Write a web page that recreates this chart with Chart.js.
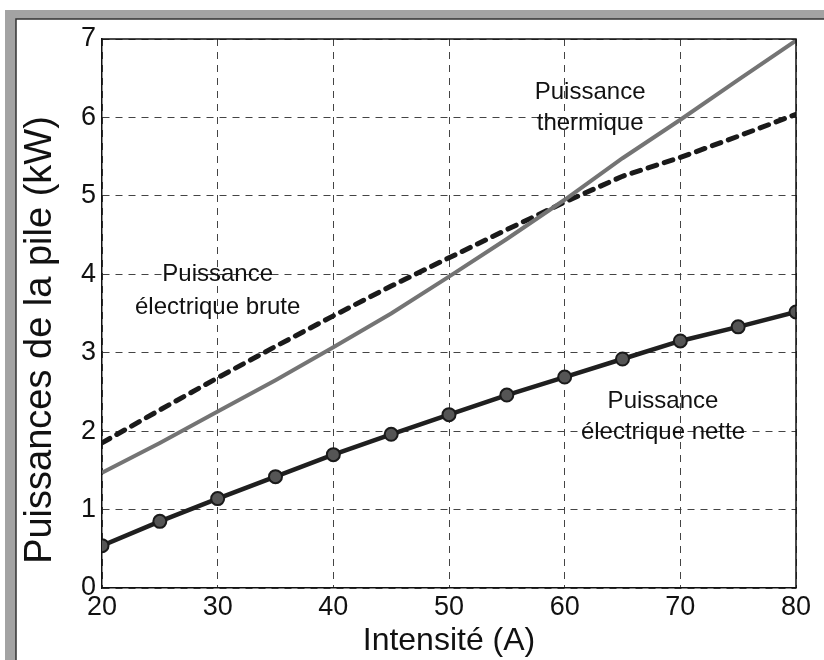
<!DOCTYPE html>
<html>
<head>
<meta charset="utf-8">
<script src="https://cdn.jsdelivr.net/npm/chart.js@4"></script>
<style>
  html, body { margin: 0; padding: 0; background: #fff; }
  #wrap { width: 824px; height: 660px; }
</style>
</head>
<body>
<div id="wrap"><canvas id="pile" width="824" height="660"></canvas></div>
<script>
// data
const current = [20, 25, 30, 35, 40, 45, 50, 55, 60, 65, 70, 75, 80];
const netPower = [0.54, 0.85, 1.14, 1.42, 1.70, 1.96, 2.21, 2.46, 2.69, 2.92, 3.15, 3.33, 3.52];
const grossPower = [1.85, 2.27, 2.68, 3.08, 3.47, 3.85, 4.21, 4.57, 4.92, 5.25, 5.49, 5.76, 6.04];
const thermalPower = [1.47, 1.85, 2.25, 2.65, 3.07, 3.50, 3.97, 4.45, 4.95, 5.48, 5.97, 6.48, 6.98];

const xTicks = [20, 30, 40, 50, 60, 70, 80];
const yTicks = [0, 1, 2, 3, 4, 5, 6, 7];

// text labels placed in data coordinates [x, y, text]
const notes = [
  [62.2, 6.32, 'Puissance'],
  [62.2, 5.92, 'thermique'],
  [30.0, 4.00, 'Puissance'],
  [30.0, 3.58, 'électrique brute'],
  [68.5, 2.38, 'Puissance'],
  [68.5, 1.98, 'électrique nette']
];

const FONT = "'Liberation Sans', Arial, sans-serif";

function pts(ys) {
  return current.map((x, i) => ({ x: x, y: ys[i] }));
}

// grey scanned frame around the figure
const frame = {
  id: 'frame',
  beforeDraw(chart) {
    const c = chart.ctx;
    c.save();
    c.fillStyle = '#a3a3a3';
    c.fillRect(5, 10, 819, 9);
    c.fillRect(5, 10, 11, 650);
    c.strokeStyle = '#333';
    c.lineWidth = 1.5;
    c.beginPath();
    c.moveTo(16, 660);
    c.lineTo(16, 19);
    c.lineTo(824, 19);
    c.stroke();
    c.restore();
  }
};

// solid box on top and right + y axis title
const boxEdge = {
  id: 'boxEdge',
  afterDraw(chart) {
    const a = chart.chartArea, c = chart.ctx;
    c.save();
    c.strokeStyle = '#111';
    c.lineWidth = 1.5;
    c.beginPath();
    c.moveTo(a.left, a.top);
    c.lineTo(a.right, a.top);
    c.lineTo(a.right, a.bottom);
    c.stroke();

    c.translate(41, 340);
    c.rotate(-Math.PI / 2);
    c.fillStyle = '#111';
    c.font = "38px " + FONT;
    c.textAlign = 'center';
    c.textBaseline = 'middle';
    c.fillText('Puissances de la pile (kW)', 0, 0);
    c.restore();
  }
};

// annotations on the curves
const labels = {
  id: 'labels',
  afterDatasetsDraw(chart) {
    const c = chart.ctx;
    const xs = chart.scales.x, ys = chart.scales.y;
    c.save();
    c.fillStyle = '#111';
    c.font = "24px " + FONT;
    c.textAlign = 'center';
    c.textBaseline = 'middle';
    notes.forEach(n => {
      c.fillText(n[2], xs.getPixelForValue(n[0]), ys.getPixelForValue(n[1]));
    });
    c.restore();
  }
};

new Chart(document.getElementById('pile'), {
  type: 'line',
  data: {
    datasets: [
      {
        label: 'Puissance thermique',
        data: pts(thermalPower),
        borderColor: '#747474',
        borderWidth: 4,
        pointRadius: 0,
        tension: 0
      },
      {
        label: 'Puissance électrique brute',
        data: pts(grossPower),
        borderColor: '#1a1a1a',
        borderWidth: 5,
        borderDash: [9, 8],
        borderCapStyle: 'round',
        pointRadius: 0,
        tension: 0
      },
      {
        label: 'Puissance électrique nette',
        data: pts(netPower),
        borderColor: '#1f1f1f',
        borderWidth: 4.5,
        pointRadius: 6.5,
        pointBackgroundColor: '#555',
        pointBorderColor: '#1a1a1a',
        pointBorderWidth: 2,
        tension: 0
      }
    ]
  },
  options: {
    responsive: false,
    animation: false,
    layout: { padding: { top: 39, right: 28, left: 0, bottom: 0 } },
    plugins: {
      legend: { display: false },
      tooltip: { enabled: false }
    },
    scales: {
      x: {
        type: 'linear',
        min: 20,
        max: 80,
        afterBuildTicks: s => { s.ticks = xTicks.map(v => ({ value: v })); },
        afterFit: s => { s.height = 72; },
        ticks: { color: '#111', font: { family: FONT, size: 27 }, padding: 3 },
        grid: { color: '#444', lineWidth: 1, drawTicks: false },
        border: { display: true, color: '#111', width: 1.5, dash: [7, 6] },
        title: {
          display: true,
          text: 'Intensité (A)',
          color: '#111',
          font: { family: FONT, size: 32 },
          padding: { top: -2, bottom: 0 }
        }
      },
      y: {
        min: 0,
        max: 7,
        afterBuildTicks: s => { s.ticks = yTicks.map(v => ({ value: v })); },
        afterFit: s => { s.width = 102; },
        ticks: { color: '#111', font: { family: FONT, size: 27 }, padding: 6 },
        grid: { color: '#444', lineWidth: 1, drawTicks: false },
        border: { display: true, color: '#111', width: 1.5, dash: [7, 6] }
      }
    }
  },
  plugins: [frame, labels, boxEdge]
});
</script>
</body>
</html>
